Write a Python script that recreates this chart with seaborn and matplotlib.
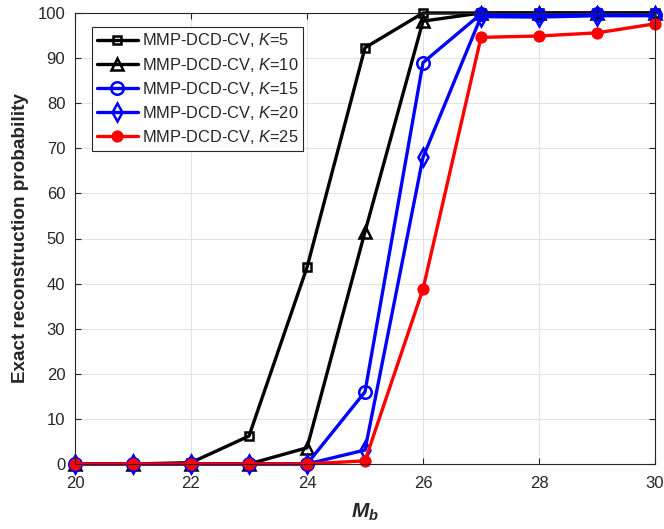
import numpy as np
import matplotlib
matplotlib.use("Agg")
import matplotlib.pyplot as plt
import seaborn as sns
import pandas as pd

# Data
mb = [20, 21, 22, 23, 24, 25, 26, 27, 28, 29, 30]
k5 = [0, 0, 0.3, 6.2, 43.6, 92.3, 100, 100, 100, 100, 100]
k10 = [0, 0, 0, 0, 3.6, 51.5, 98.2, 100, 100, 100, 100]
k15 = [0, 0, 0, 0, 0, 16, 89, 99.8, 99.6, 99.8, 99.6]
k20 = [0, 0, 0, 0, 0, 3.1, 68, 99.2, 99.1, 99.4, 99.4]
k25 = [0, 0, 0, 0, 0, 0.7, 38.8, 94.6, 94.9, 95.6, 97.6]

labels = ["MMP-DCD-CV, $K$=5", "MMP-DCD-CV, $K$=10", "MMP-DCD-CV, $K$=15",
          "MMP-DCD-CV, $K$=20", "MMP-DCD-CV, $K$=25"]
colors = ['black', 'black', 'blue', 'blue', 'red']

sns.set_style("whitegrid")
plt.rcParams['font.family'] = ['Liberation Sans', 'DejaVu Sans']
plt.rcParams['mathtext.fontset'] = 'custom'
plt.rcParams['mathtext.it'] = 'Liberation Sans:italic'
plt.rcParams['mathtext.bf'] = 'Liberation Sans:bold:italic'
plt.rcParams['mathtext.rm'] = 'Liberation Sans'

fig = plt.figure(figsize=(6.64, 5.29), dpi=100)
ax = fig.add_axes([75 / 664, 1 - 464 / 529, 580 / 664, 451 / 529])

styles = [
    dict(marker='s', markersize=6, markerfacecolor='none', markeredgewidth=1.8),
    dict(marker='^', markersize=9, markerfacecolor='none', markeredgewidth=1.8),
    dict(marker='o', markersize=9, markerfacecolor='none', markeredgewidth=1.8),
    dict(marker='d', markersize=9, markerfacecolor='none', markeredgewidth=1.8),
    dict(marker='o', markersize=7, markerfacecolor='red', markeredgewidth=1.8),
]
for vals, color, st, lab in zip([k5, k10, k15, k20, k25], colors, styles, labels):
    df = pd.DataFrame({'mb': mb, 'p': vals})
    sns.lineplot(data=df, x='mb', y='p', color=color, linewidth=2.4,
                 markeredgecolor=color, label=lab, ax=ax, clip_on=False, **st)

ax.set_xlim(20, 30)
ax.set_ylim(0, 100)
ax.set_xticks(range(20, 31, 2))
ax.set_yticks(range(0, 101, 10))
ax.grid(True, color='#e3e3e3', linewidth=0.8)
for s in ax.spines.values():
    s.set_color('#262626')
    s.set_linewidth(0.8)
ax.tick_params(direction='in', length=4, labelsize=12, colors='#262626',
               top=True, right=True, bottom=True, left=True)
ax.tick_params(axis='x', pad=9)
ax.tick_params(axis='y', pad=7)
ax.set_xlabel('$\\mathbf{M_b}$', fontsize=15, labelpad=7)
ax.set_ylabel('Exact reconstruction probability', fontsize=13.6,
              fontweight='bold', labelpad=6)

leg = ax.legend(loc='upper left', bbox_to_anchor=(0.029, 0.97), fontsize=11.8,
                frameon=True, fancybox=False, edgecolor='#262626',
                handlelength=2.5, borderpad=0.3, labelspacing=0.37,
                handletextpad=0.25, borderaxespad=0.0)
leg.get_frame().set_linewidth(0.8)
leg.get_frame().set_alpha(1)

fig.savefig('out.png', dpi=100)
